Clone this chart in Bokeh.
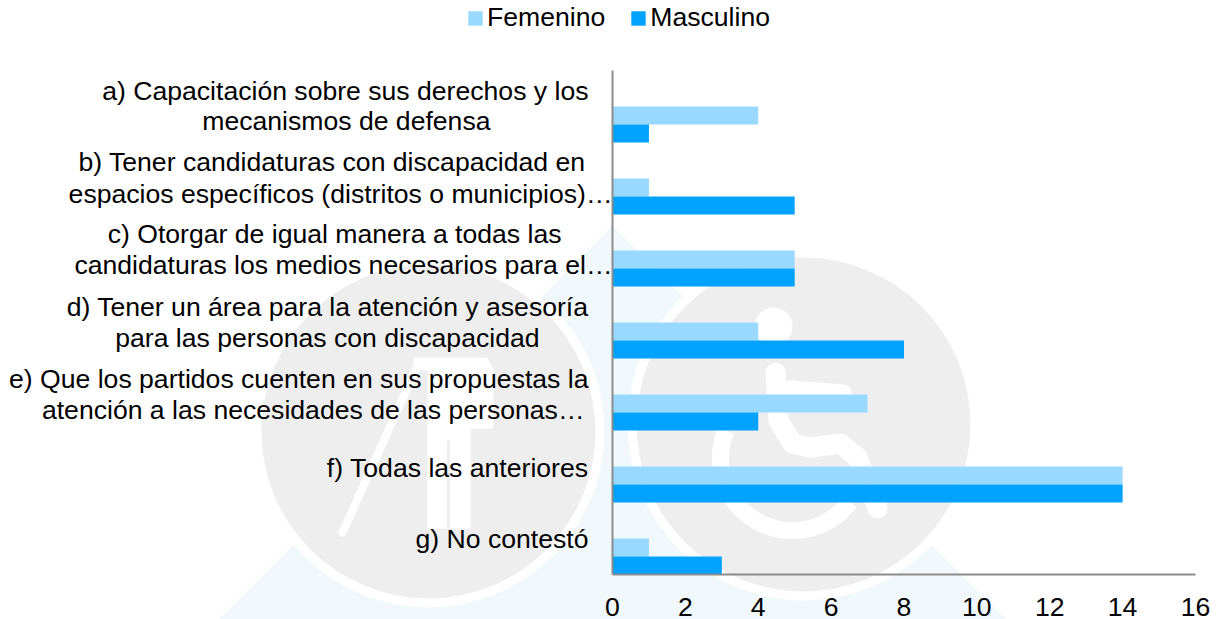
from bokeh.plotting import figure
from bokeh.embed import file_html
from bokeh.resources import INLINE
from bokeh.models import Range1d, FixedTicker, Legend, LegendItem
from bokeh.core.properties import value

FONT = "Liberation Sans"
FS = "26.6px"
label_lines = [
    "a) Capacitación sobre sus derechos y los", "mecanismos de defensa",
    "b) Tener candidaturas con discapacidad en", "espacios específicos (distritos o municipios)…",
    "c) Otorgar de igual manera a todas las", "candidaturas los medios necesarios para el…",
    "d) Tener un área para la atención y asesoría", "para las personas con discapacidad",
    "e) Que los partidos cuenten en sus propuestas la", "atención a las necesidades de las personas…",
    "f) Todas las anteriores",
    "g) No contestó",
]
line_category = [0, 0, 1, 1, 2, 2, 3, 3, 4, 4, 5, 6]
line_right_px = [588, 490, 585, 612, 561, 612, 588, 539, 588, 584, 588, 588]
line_dy_px = [-34, -4, -35, -3, -35, -4, -34, -3, -34, -3, -17, -18]
femenino = [4, 1, 5, 4, 7, 14, 1]
masculino = [1, 5, 5, 8, 4, 14, 3]
series_names = ["Femenino", "Masculino"]
x_ticks = [0, 2, 4, 6, 8, 10, 12, 14, 16]

W, H = 1217, 619
X0, X16, Y0, Y7 = 612, 1195, 70, 574
SX = (X16 - X0) / 16
SY = (Y7 - Y0) / 7
def dx(px): return (px - X0) / SX
def dy(py): return (py - Y0) / SY

p = figure(width=W, height=H, output_backend="svg", toolbar_location=None,
           x_range=Range1d(dx(0), dx(W)), y_range=Range1d(dy(H), dy(0)),
           min_border=0, min_border_left=0, min_border_right=0, min_border_top=0, min_border_bottom=0)
p.grid.visible = False
p.outline_line_color = None

# watermark
BLUE, GREY = "#f0f8fc", "#eeeeee"
p.patch([dx(v) for v in (612, 218, 1006)], [dy(v) for v in (225, 619, 619)], color=BLUE, line_color=None)
for cx, cy in ((428, 431), (803, 424)):
    p.scatter([dx(cx)], [dy(cy)], size=352, color="#ffffff", line_color=None)
    p.scatter([dx(cx)], [dy(cy)], size=334, color=GREY, line_color=None)
WHITE = "#ffffff"
# standing figure
p.patch([dx(v) for v in (413, 487, 493, 493, 470, 470, 427, 427, 413)],
        [dy(v) for v in (357, 357, 370, 428, 428, 528, 528, 370, 370)], color=WHITE, line_color=None)
p.line([dx(417), dx(342)], [dy(365), dy(532)], color=WHITE, line_width=8, line_cap="round")
p.line([dx(448), dx(448)], [dy(440), dy(528)], color=GREY, line_width=3)
# wheelchair figure
p.scatter([dx(773)], [dy(326)], size=38, color=WHITE, line_color=None)
p.line([dx(v) for v in (775, 778, 792, 810, 840, 857, 877)],
       [dy(v) for v in (372, 420, 443, 447, 443, 457, 508)], color=WHITE, line_width=20, line_join="round", line_cap="round")
p.line([dx(790), dx(843)], [dy(388), dy(392)], color=WHITE, line_width=16, line_cap="round")
p.arc(x=[dx(792)], y=[dy(458)], radius=72, radius_units="screen", start_angle=157, end_angle=323,
      start_angle_units="deg", end_angle_units="deg", direction="anticlock", line_color=WHITE, line_width=17)

# bars
BAR = 0.25
ys = [i + 0.75 for i in range(7)]
r1 = p.hbar(y=[v - BAR / 2 for v in ys], left=0, right=femenino, height=BAR, color="#99d9ff", line_color=None)
r2 = p.hbar(y=[v + BAR / 2 for v in ys], left=0, right=masculino, height=BAR, color="#00a2ff", line_color=None)

# axes
p.xaxis.fixed_location = 7
p.xaxis.bounds = (0, 16)
p.xaxis.ticker = FixedTicker(ticks=x_ticks)
p.xaxis.major_tick_line_color = None
p.xaxis.minor_tick_line_color = None
p.xaxis.axis_line_color = "#8c8c8c"
p.xaxis.axis_line_width = 2
p.xaxis.major_label_text_font = FONT
p.xaxis.major_label_text_font_size = FS
p.xaxis.major_label_text_color = "#000000"
p.xaxis.major_label_standoff = 17
p.yaxis.fixed_location = 0
p.yaxis.bounds = (0, 7)
p.yaxis.ticker = FixedTicker(ticks=[])
p.yaxis.minor_tick_line_color = None
p.yaxis.major_tick_line_color = None
p.yaxis.axis_line_color = "#8c8c8c"
p.yaxis.axis_line_width = 2

# category labels
p.text(x=[0] * len(label_lines), y=[ys[c] for c in line_category], text=label_lines,
       x_offset=[r - X0 for r in line_right_px], y_offset=line_dy_px,
       text_align="right", text_baseline="middle", text_font=value(FONT),
       text_font_size=FS, text_color="#000000")

legend = Legend(items=[LegendItem(label=series_names[0], renderers=[r1]),
                       LegendItem(label=series_names[1], renderers=[r2])],
                orientation="horizontal", location=(466, H - 33), margin=0, padding=0,
                spacing=24, label_standoff=3, glyph_width=18, glyph_height=18,
                label_text_font=FONT, label_text_font_size=FS, label_text_color="#000000",
                border_line_color=None, background_fill_alpha=0)
p.add_layout(legend, "center")

open("out.html", "w").write(file_html(p, INLINE))
